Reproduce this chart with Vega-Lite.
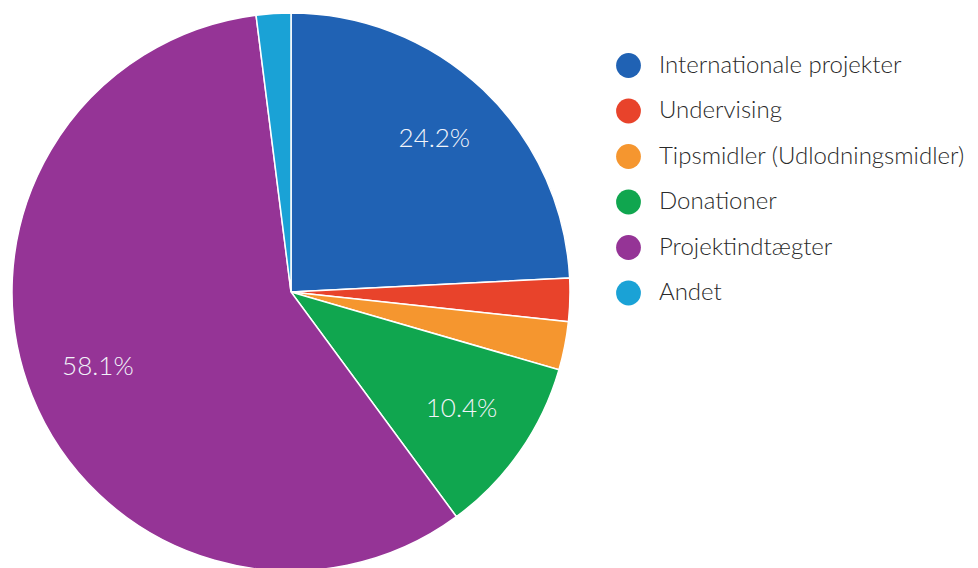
{
  "$schema": "https://vega.github.io/schema/vega-lite/v6.json",
  "width": 582,
  "height": 584,
  "autosize": {"type": "none"},
  "padding": {"left": 0, "top": 0, "right": 396, "bottom": 0},
  "background": "white",
  "view": {"stroke": null},
  "data": {
    "values": [
      {"kategori": "Internationale projekter", "andel": 0.242, "rank": 1},
      {"kategori": "Undervising", "andel": 0.025, "rank": 2},
      {"kategori": "Tipsmidler (Udlodningsmidler)", "andel": 0.028, "rank": 3},
      {"kategori": "Donationer", "andel": 0.104, "rank": 4},
      {"kategori": "Projektindtægter", "andel": 0.581, "rank": 5},
      {"kategori": "Andet", "andel": 0.020, "rank": 6}
    ]
  },
  "encoding": {
    "theta": {"field": "andel", "type": "quantitative", "stack": true},
    "order": {"field": "rank", "type": "quantitative"},
    "color": {
      "field": "kategori",
      "type": "nominal",
      "scale": {
        "domain": ["Internationale projekter", "Undervising", "Tipsmidler (Udlodningsmidler)", "Donationer", "Projektindtægter", "Andet"],
        "range": ["#2062b4", "#e8432b", "#f5962f", "#10a64f", "#953496", "#1aa2d6"]
      },
      "legend": {
        "title": null,
        "orient": "none",
        "legendX": 616,
        "legendY": 53,
        "symbolType": "circle",
        "symbolSize": 615,
        "symbolStrokeWidth": 0,
        "labelFont": "Lato",
        "labelFontSize": 24,
        "labelFontWeight": 300,
        "labelColor": "#2a2a2a",
        "labelOffset": 18,
        "rowPadding": 20.5,
        "labelLimit": 400
      }
    }
  },
  "layer": [
    {
      "mark": {"type": "arc", "outerRadius": 279, "stroke": "white", "strokeWidth": 1.5}
    },
    {
      "mark": {"type": "text", "radius": 208, "font": "Lato", "fontSize": 26, "fontWeight": 300, "dy": -2, "fill": "#f2f4fa"},
      "encoding": {
        "text": {
          "condition": {"test": "datum.andel > 0.05", "field": "andel", "type": "quantitative", "format": ".1%"},
          "value": ""
        },
        "color": {"value": "#f2f4fa"}
      }
    }
  ]
}
